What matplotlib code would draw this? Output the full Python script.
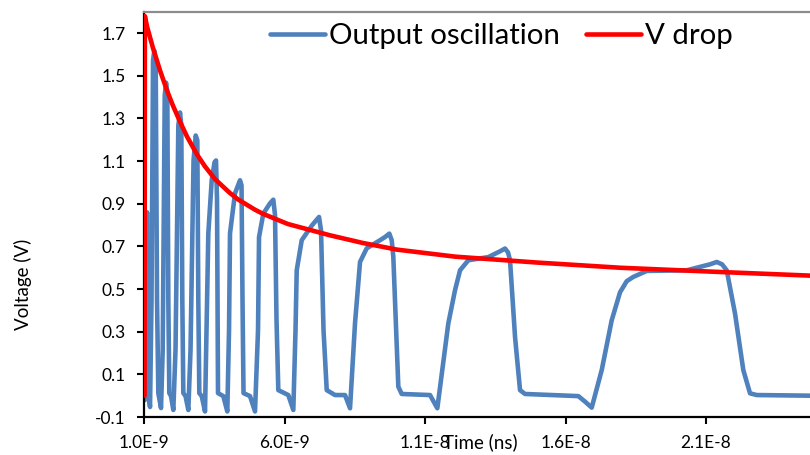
"""Ring oscillator output vs. supply drop, redrawn from the reference chart."""
import numpy as np
import matplotlib
matplotlib.use("Agg")
import matplotlib.pyplot as plt
from matplotlib.ticker import FixedLocator, FixedFormatter

plt.rcParams["font.family"] = ["Lato", "DejaVu Sans"]

# --- data (time in ns, voltage in V) ----------------------------------------
osc_t = [1.036, 1.107, 1.160, 1.214,
         1.267, 1.320, 1.367, 1.416, 1.463, 1.509, 1.605,
         1.665, 1.737, 1.783, 1.829, 1.865, 1.900, 1.961, 2.043,
         2.121, 2.221, 2.281, 2.327, 2.363, 2.399, 2.477, 2.577,
         2.655, 2.762, 2.840, 2.897, 2.932, 2.968, 3.053, 3.171,
         3.224, 3.288, 3.409, 3.509, 3.562, 3.598, 3.633, 3.822, 3.964,
         4.025, 4.060, 4.238, 4.416, 4.470, 4.505, 4.541, 4.772, 4.950,
         5.057, 5.093, 5.246, 5.484, 5.601, 5.662, 5.715, 5.779, 6.135, 6.313,
         6.391, 6.434, 6.612, 6.979, 7.228, 7.299, 7.388, 7.502, 7.797, 8.153,
         8.331,
         8.509, 8.687, 8.925, 9.399, 9.577, 9.730, 9.815, 9.872, 10.050, 10.171,
         11.178, 11.438,
         11.829, 12.068, 12.246, 12.541, 13.253, 13.669, 13.847, 13.954, 14.025,
         14.203, 14.381, 14.559, 16.456, 16.694, 16.932,
         17.288, 17.644, 17.940, 18.178, 18.413, 18.890, 20.313, 21.142, 21.381,
         21.570, 21.737, 22.032, 22.327, 22.566, 22.804, 24.700]
osc_v = [-0.020, 0.860, 0.003, -0.053,
         0.448, 1.571, 1.618, 1.562, 0.448, 0.012, -0.058,
         0.214, 1.407, 1.468, 1.422, 0.448, 0.012, -0.002, -0.067,
         0.214, 1.267, 1.328, 1.267, 0.448, 0.012, -0.002, -0.067,
         0.214, 1.103, 1.220, 1.197, 0.448, 0.012, -0.002, -0.074,
         0.307, 0.761, 1.010, 1.094, 1.103, 0.916, 0.012, -0.002, -0.074,
         0.307, 0.761, 0.949, 1.010, 0.986, 0.448, 0.012, -0.002, -0.074,
         0.307, 0.744, 0.854, 0.902, 0.919, 0.846, 0.354, 0.026, 0.003, -0.067,
         0.307, 0.588, 0.729, 0.799, 0.838, 0.775, 0.307, 0.026, 0.003, 0.003,
         -0.059,
         0.340, 0.627, 0.691, 0.729, 0.744, 0.760, 0.729, 0.650, 0.042, 0.008,
         0.003, -0.059,
         0.339, 0.495, 0.588, 0.635, 0.650, 0.677, 0.690, 0.672, 0.635,
         0.276, 0.026, 0.008, -0.002, -0.028, -0.056,
         0.120, 0.354, 0.485, 0.537, 0.557, 0.585, 0.588, 0.616, 0.627,
         0.616, 0.588, 0.385, 0.120, 0.011, 0.003, 0.000]

drop_t = [1.02, 1.03, 1.11, 1.32, 1.57, 1.82, 2.03, 2.28, 2.53, 2.89, 3.17, 3.53,
          4.06, 4.35, 4.95, 5.23, 6.12, 7.62, 8.79, 10.0, 12.07, 15.02, 17.94,
          21.5, 24.7]
drop_v = [0.0, 1.78, 1.73, 1.63, 1.525, 1.43, 1.36, 1.285, 1.215, 1.13, 1.075,
          1.015, 0.950, 0.920, 0.872, 0.853, 0.805, 0.752, 0.716, 0.685, 0.652,
          0.624, 0.600, 0.580, 0.563]

x_ticks = [1.0e-9, 6.0e-9, 1.1e-8, 1.6e-8, 2.1e-8]
x_tick_labels = ["1.0E-9", "6.0E-9", "1.1E-8", "1.6E-8", "2.1E-8"]
y_ticks = [-0.1, 0.1, 0.3, 0.5, 0.7, 0.9, 1.1, 1.3, 1.5, 1.7]
y_tick_labels = ["-0.1", "0.1", "0.3", "0.5", "0.7", "0.9", "1.1", "1.3", "1.5", "1.7"]

NS = 1e-9
BLUE = "#4F81BD"
RED = "#FF0000"

fig = plt.figure(figsize=(8.1, 4.55), dpi=100)
ax = fig.add_axes([0.1778, 0.0835, 0.8222, 0.8905])

ax.plot(np.array(osc_t) * NS, osc_v, color=BLUE, lw=3.3,
        solid_joinstyle="round", solid_capstyle="round",
        label="Output oscillation", zorder=2)
ax.plot(np.array(drop_t) * NS, drop_v, color=RED, lw=3.3,
        solid_joinstyle="round", solid_capstyle="round",
        label="V drop", zorder=3)

ax.set_xlim(1.0e-9, 24.7e-9)
ax.set_ylim(-0.1, 1.8)

ax.xaxis.set_major_locator(FixedLocator(x_ticks))
ax.xaxis.set_major_formatter(FixedFormatter(x_tick_labels))
ax.yaxis.set_major_locator(FixedLocator(y_ticks))
ax.yaxis.set_major_formatter(FixedFormatter(y_tick_labels))
ax.tick_params(direction="out", length=5, width=1.5, color="black",
               labelsize=12.5, pad=8)

for side in ("left", "bottom"):
    ax.spines[side].set_linewidth(1.6)
    ax.spines[side].set_color("black")
ax.spines["top"].set_color("#8C8C8C")
ax.spines["top"].set_linewidth(1.6)
ax.spines["right"].set_visible(False)

# the axis title sits on the tick-label row, as in the original
fig.text(0.593, 0.029, "Time (ns)", ha="center", va="center", fontsize=13.5)
fig.text(0.028, 0.376, "Voltage (V)", ha="center", va="center",
         rotation=90, fontsize=13.5)

fig.legend(loc="center left", bbox_to_anchor=(0.333, 0.921), ncol=2,
           frameon=False, fontsize=21.2, handlelength=1.87, handletextpad=0.13,
           columnspacing=0.9, borderpad=0, borderaxespad=0)

fig.savefig("out.png", dpi=100)
